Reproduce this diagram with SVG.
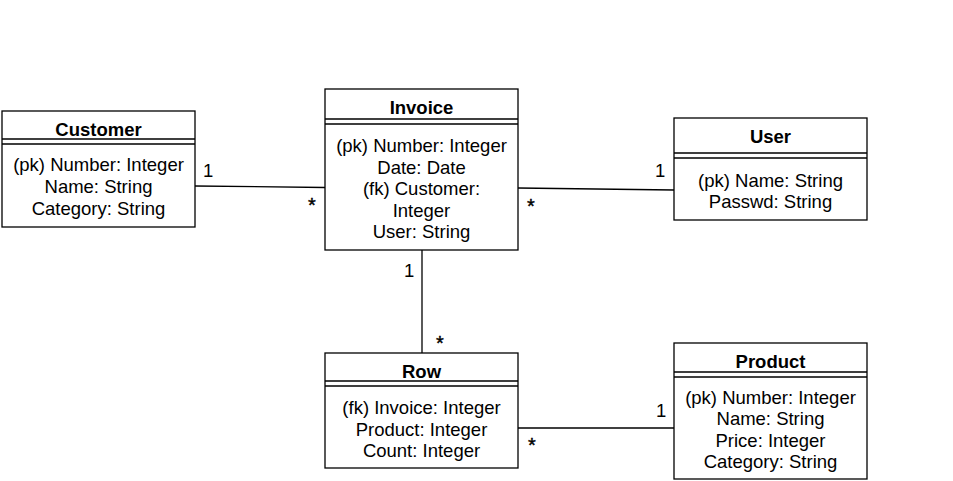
<svg xmlns="http://www.w3.org/2000/svg" width="953" height="481" viewBox="0 0 953 481">
<style>
.box{fill:#fff;stroke:#000;stroke-width:1.3}
.sep{stroke:#000;stroke-width:1.3;fill:none}
.title{font-family:"Liberation Sans",Arial,sans-serif;font-size:18.5px;font-weight:bold;text-anchor:middle;fill:#000}
.attr{font-family:"Liberation Sans",Arial,sans-serif;font-size:18.5px;text-anchor:middle;fill:#000}
.lbl{font-family:"Liberation Sans",Arial,sans-serif;font-size:18.5px;fill:#000}
.star{font-family:"Liberation Sans",Arial,sans-serif;font-size:20px;fill:#000;stroke:#000;stroke-width:0.4}
.conn{stroke:#000;stroke-width:1.3;fill:none}
</style>
<rect width="953" height="481" fill="#fff"/>
<g id="connectors">
<path class="conn" d="M195,186 L325,187.5"/>
<path class="conn" d="M518,188 L674,190"/>
<path class="conn" d="M422,250 L422,353"/>
<path class="conn" d="M518,428 L674,428"/>
<text class="lbl" x="203" y="177">1</text>
<text class="star" x="308" y="212">*</text>
<text class="star" x="527" y="213">*</text>
<text class="lbl" x="655" y="177">1</text>
<text class="lbl" x="404" y="277">1</text>
<text class="star" x="436" y="350">*</text>
<text class="star" x="528" y="452">*</text>
<text class="lbl" x="656" y="417">1</text>
</g>
<g id="customer">
<rect class="box" x="2" y="111" width="193" height="116"/>
<path class="sep" d="M2,139 H195 M2,144 H195"/>
<text class="title" x="98.5" y="136">Customer</text>
<text class="attr" x="98.5" y="171">(pk) Number: Integer</text>
<text class="attr" x="98.5" y="193">Name: String</text>
<text class="attr" x="98.5" y="215">Category: String</text>
</g>
<g id="invoice">
<rect class="box" x="325" y="89" width="193" height="161"/>
<path class="sep" d="M325,119 H518 M325,124 H518"/>
<text class="title" x="421.5" y="114">Invoice</text>
<text class="attr" x="421.5" y="152">(pk) Number: Integer</text>
<text class="attr" x="421.5" y="174">Date: Date</text>
<text class="attr" x="421.5" y="195">(fk) Customer:</text>
<text class="attr" x="421.5" y="217">Integer</text>
<text class="attr" x="421.5" y="238">User: String</text>
</g>
<g id="user">
<rect class="box" x="674" y="118" width="193" height="102"/>
<path class="sep" d="M674,153 H867 M674,158 H867"/>
<text class="title" x="770.5" y="143">User</text>
<text class="attr" x="770.5" y="187">(pk) Name: String</text>
<text class="attr" x="770.5" y="208">Passwd: String</text>
</g>
<g id="row">
<rect class="box" x="325" y="353" width="193" height="115"/>
<path class="sep" d="M325,381 H518 M325,386 H518"/>
<text class="title" x="421.5" y="378">Row</text>
<text class="attr" x="421.5" y="414">(fk) Invoice: Integer</text>
<text class="attr" x="421.5" y="436">Product: Integer</text>
<text class="attr" x="421.5" y="457">Count: Integer</text>
</g>
<g id="product">
<rect class="box" x="674" y="343" width="193" height="136"/>
<path class="sep" d="M674,372 H867 M674,377 H867"/>
<text class="title" x="770.5" y="368">Product</text>
<text class="attr" x="770.5" y="404">(pk) Number: Integer</text>
<text class="attr" x="770.5" y="425">Name: String</text>
<text class="attr" x="770.5" y="447">Price: Integer</text>
<text class="attr" x="770.5" y="468">Category: String</text>
</g>
</svg>
